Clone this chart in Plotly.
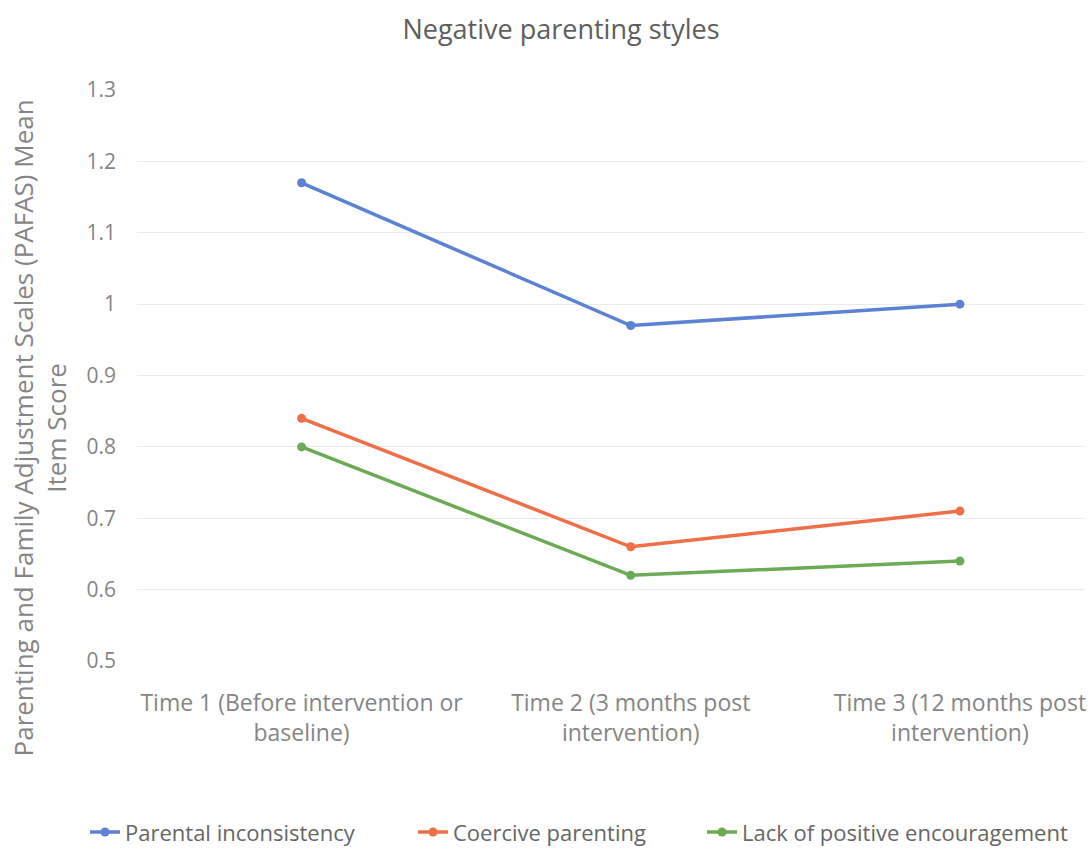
import plotly.graph_objects as go

categories = ["Time 1 (Before intervention or<br>baseline)",
              "Time 2 (3 months post<br>intervention)",
              "Time 3 (12 months post<br>intervention)"]
parental_inconsistency = [1.17, 0.97, 1.00]
coercive_parenting = [0.84, 0.66, 0.71]
lack_of_positive_encouragement = [0.80, 0.62, 0.64]
y_ticks = [0.5, 0.6, 0.7, 0.8, 0.9, 1.0, 1.1, 1.2, 1.3]
y_ticktext = ["0.5", "0.6", "0.7", "0.8", "0.9", "1", "1.1", "1.2", "1.3"]

FONT = "Open Sans, Lato, sans-serif"
xs = list(range(len(categories)))

fig = go.Figure()
series = [
    ("Parental inconsistency", parental_inconsistency, "#5B82D4", 283),
    ("Coercive parenting", coercive_parenting, "#EF7048", 244),
    ("Lack of positive encouragement", lack_of_positive_encouragement, "#6CAB55", 330),
]
for name, vals, col, lw in series:
    fig.add_trace(go.Scatter(x=xs, y=vals, name=name, mode="lines+markers",
                             line=dict(color=col, width=3.5),
                             marker=dict(color=col, size=9),
                             legendwidth=lw))

fig.update_layout(
    width=1091, height=859,
    margin=dict(l=137, r=6, t=90, b=192),
    paper_bgcolor="white", plot_bgcolor="white",
    font=dict(family=FONT, color="#858585", size=16),
    title=dict(text="Negative parenting styles", x=561/1091, xref="container",
               xanchor="center", y=1 - 30/859, yanchor="middle",
               font=dict(family=FONT, size=27, color="#5E5E5E")),
    xaxis=dict(range=[-0.5, 2.38], tickvals=xs, ticktext=categories,
               showgrid=False, zeroline=False, showline=False,
               tickfont=dict(size=23, color="#858585"), ticks="",
               ticklabelstandoff=26),
    yaxis=dict(range=[0.5, 1.3], tickvals=y_ticks, ticktext=y_ticktext,
               showgrid=True, gridcolor="#EBEBEB", gridwidth=1,
               zeroline=False, showline=False, ticks="",
               ticklabelstandoff=20,
               tickfont=dict(size=21, color="#858585")),
    legend=dict(orientation="h", x=(85-137)/948, xanchor="left",
                y=(667-840)/577, yanchor="middle",
                font=dict(size=22, color="#666666"), itemwidth=30,
                tracegroupgap=0),
    showlegend=True,
)
fig.add_annotation(text="Parenting and Family Adjustment Scales (PAFAS) Mean<br>Item Score",
                   xref="paper", yref="paper", x=(40-137)/948, y=(667-432)/577,
                   xanchor="center", yanchor="middle", textangle=-90, showarrow=False,
                   font=dict(family=FONT, size=26, color="#858585"))

fig.write_html("out.html")
